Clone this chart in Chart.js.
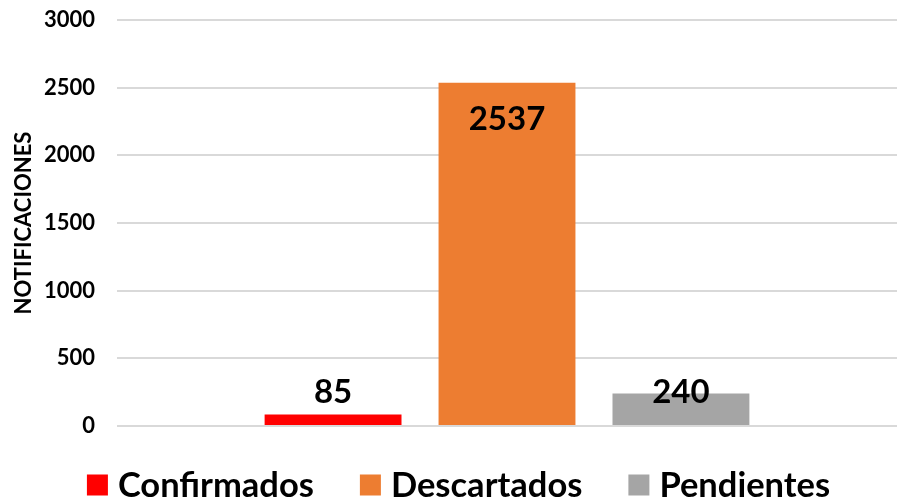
<!DOCTYPE html>
<html>
<head>
<meta charset="utf-8">
<script src="https://cdn.jsdelivr.net/npm/chart.js@4.4.0/dist/chart.umd.min.js"></script>
<style>
  html, body { margin: 0; padding: 0; background: #ffffff; }
  #wrap { width: 897px; height: 500px; }
</style>
</head>
<body>
<div id="wrap"><canvas id="notifChart" width="897" height="500"></canvas></div>
<script>
// --- data ---
const categories = ['Notificaciones'];
const seriesNames = ['Confirmados', 'Descartados', 'Pendientes'];
const confirmados = [85];
const descartados = [2537];
const pendientes = [240];
const yTicks = [0, 500, 1000, 1500, 2000, 2500, 3000];

const seriesColors = ['#ff0000', '#ed7d31', '#a5a5a5'];
const fontFamily = 'Lato, "Open Sans", sans-serif';

// labels on the bars: inside the top of tall bars, just above the base for short ones
const barLabels = {
    id: 'barLabels',
    afterDatasetsDraw(chart) {
        const ctx = chart.ctx;
        const base = chart.scales.y.getPixelForValue(0);
        ctx.save();
        ctx.font = 'bold 33px ' + fontFamily;
        ctx.fillStyle = '#000000';
        ctx.textAlign = 'center';
        ctx.textBaseline = 'middle';
        chart.data.datasets.forEach((ds, i) => {
            chart.getDatasetMeta(i).data.forEach((bar, j) => {
                const y = Math.min(bar.y + 37, base - 34);
                ctx.fillText(String(ds.data[j]), bar.x, y);
            });
        });
        ctx.restore();
    }
};

// bottom legend drawn by hand (built-in one eats too much height with wide spacing)
const bottomLegend = {
    id: 'bottomLegend',
    afterDraw(chart) {
        const ctx = chart.ctx;
        const box = 21, gap = 10, itemGap = 46;
        const cy = 485;
        ctx.save();
        ctx.font = 'bold 34.5px ' + fontFamily;
        ctx.textBaseline = 'middle';
        ctx.textAlign = 'left';
        const items = chart.data.datasets.map(ds => ({
            text: ds.label,
            color: ds.backgroundColor,
            w: box + gap + ctx.measureText(ds.label).width
        }));
        const total = items.reduce((s, it) => s + it.w, 0) + itemGap * (items.length - 1);
        let x = chart.width / 2 + 10 - total / 2;
        items.forEach(it => {
            ctx.fillStyle = it.color;
            ctx.fillRect(x, cy - box / 2, box, box);
            ctx.fillStyle = '#000000';
            ctx.fillText(it.text, x + box + gap, cy + 1);
            x += it.w + itemGap;
        });
        ctx.restore();
    }
};

const ctx = document.getElementById('notifChart');
new Chart(ctx, {
    type: 'bar',
    data: {
        labels: categories,
        datasets: [
            { label: seriesNames[0], data: confirmados, backgroundColor: seriesColors[0] },
            { label: seriesNames[1], data: descartados, backgroundColor: seriesColors[1] },
            { label: seriesNames[2], data: pendientes, backgroundColor: seriesColors[2] }
        ]
    },
    options: {
        responsive: false,
        animation: false,
        categoryPercentage: 0.669,
        barPercentage: 0.787,
        layout: { padding: { left: 11, right: 0, top: 20, bottom: 66 } },
        plugins: {
            legend: { display: false },
            tooltip: { enabled: false }
        },
        scales: {
            x: {
                grid: { display: false },
                border: { display: false },
                ticks: { display: false }
            },
            y: {
                min: 0,
                max: 3000,
                afterBuildTicks: axis => { axis.ticks = yTicks.map(v => ({ value: v })); },
                afterFit: axis => {
                    axis.width = 106;
                    axis.paddingTop = 0;
                    axis.paddingBottom = 0;
                },
                grid: { color: '#d9d9d9', lineWidth: 2, drawTicks: false },
                border: { display: false },
                ticks: {
                    padding: 22,
                    color: '#000000',
                    font: { family: fontFamily, size: 22, weight: 'bold' },
                    callback: v => String(v)
                },
                title: {
                    display: true,
                    text: 'NOTIFICACIONES',
                    color: '#000000',
                    padding: { top: 0, bottom: 12 },
                    font: { family: fontFamily, size: 22, weight: 'bold' }
                }
            }
        }
    },
    plugins: [barLabels, bottomLegend]
});
</script>
</body>
</html>
